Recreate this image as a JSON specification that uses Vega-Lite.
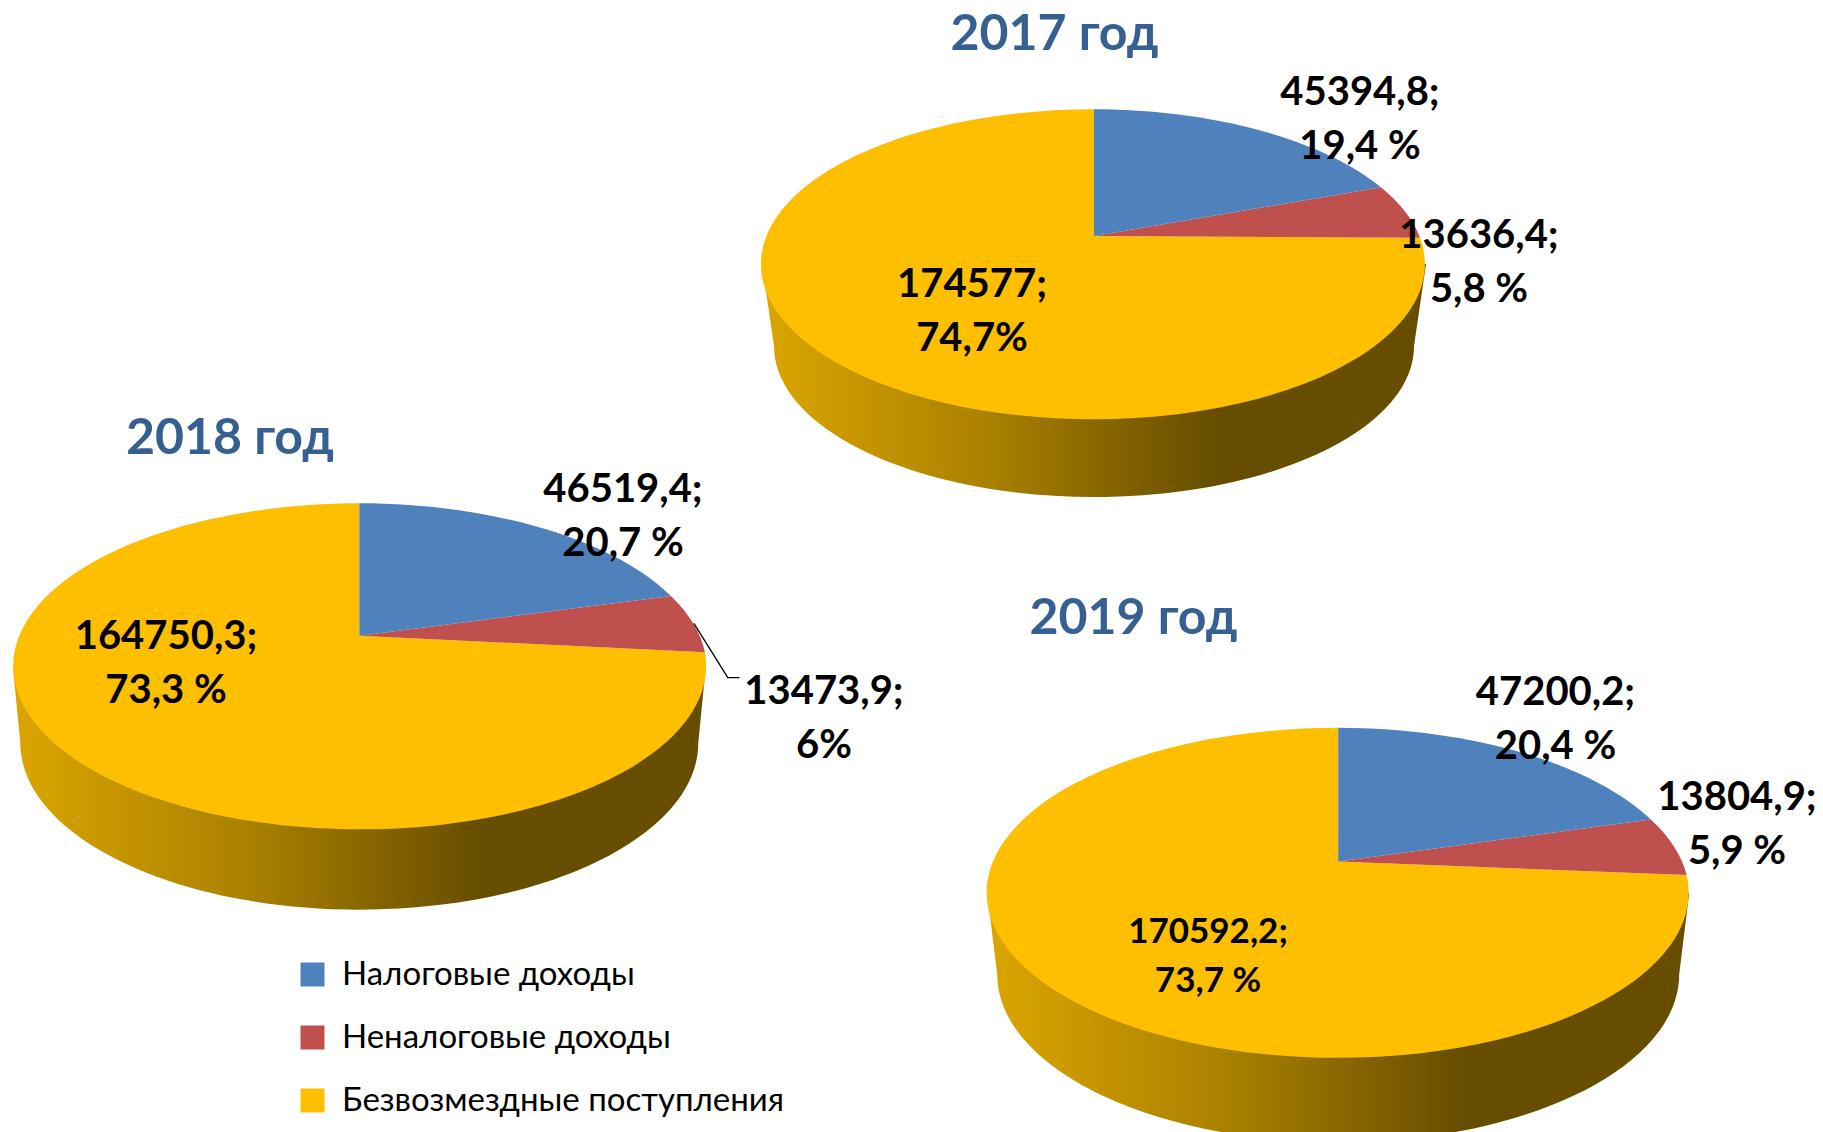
{
"$schema":"https://vega.github.io/schema/vega-lite/v6.json",
"width":1823,"height":1132,"padding":0,"autosize":{"type":"none"},"background":"#ffffff",
"view":{"stroke":null},
"config":{"font":"Lato","text":{"lineBreak":"\n"}},
"data":{"values":[
{"year":2017,"category":"Налоговые доходы","value":45394.8,"percent":19.4,"label":"45394,8;\n19,4 %","title":"2017 год"},
{"year":2017,"category":"Неналоговые доходы","value":13636.4,"percent":5.8,"label":"13636,4;\n5,8 %","title":"2017 год"},
{"year":2017,"category":"Безвозмездные поступления","value":174577,"percent":74.7,"label":"174577;\n74,7%","title":"2017 год"},
{"year":2018,"category":"Налоговые доходы","value":46519.4,"percent":20.7,"label":"46519,4;\n20,7 %","title":"2018 год"},
{"year":2018,"category":"Неналоговые доходы","value":13473.9,"percent":6,"label":"13473,9;\n6%","title":"2018 год"},
{"year":2018,"category":"Безвозмездные поступления","value":164750.3,"percent":73.3,"label":"164750,3;\n73,3 %","title":"2018 год"},
{"year":2019,"category":"Налоговые доходы","value":47200.2,"percent":20.4,"label":"47200,2;\n20,4 %","title":"2019 год"},
{"year":2019,"category":"Неналоговые доходы","value":13804.9,"percent":5.9,"label":"13804,9;\n5,9 %","title":"2019 год"},
{"year":2019,"category":"Безвозмездные поступления","value":170592.2,"percent":73.7,"label":"170592,2;\n73,7 %","title":"2019 год"}
]},
"layer":[
{"transform":[{"filter":"datum.category=='Безвозмездные поступления'"}],
 "mark":{"type":"point","filled":true,"size":4,"opacity":1,"strokeWidth":0,"fill":{"gradient":"linear","x1":0,"y1":0,"x2":1,"y2":0,"stops":[{"offset":0,"color":"#DCA600"},{"offset":0.35,"color":"#A87F00"},{"offset":0.68,"color":"#664D00"},{"offset":1,"color":"#664D00"}]}},
 "encoding":{
  "x":{"field":"year","type":"quantitative","axis":null,"scale":{"domain":[2017,2018,2019],"range":[1094,359.3,1338.2],"zero":false,"nice":false}},
  "y":{"field":"year","type":"quantitative","axis":null,"scale":{"domain":[2017,2018,2019],"range":[236,635.7,861.6],"zero":false,"nice":false}},
  "shape":{"field":"year","type":"nominal","legend":null,"scale":{"domain":[2017,2018,2019],"range":[
   "M-332,28 L-320,110 A320,151 0 1 0 320,110 L332,28 Z",
   "M-346.5,30.5 L-339,107 A339,167 0 1 0 339,107 L346.5,30.5 Z",
   "M-351,31.3 L-341,112.6 A341,168 0 1 0 341,112.6 L351,31.3 Z"]}}
 }},
{"transform":[{"filter":"datum.category=='Безвозмездные поступления'"}],
 "mark":{"type":"point","filled":true,"size":4,"opacity":1,"strokeWidth":0},
 "encoding":{
  "x":{"field":"year","type":"quantitative","axis":null,"scale":{"domain":[2017,2018,2019],"range":[1094,359.3,1338.2],"zero":false,"nice":false}},
  "y":{"field":"year","type":"quantitative","axis":null,"scale":{"domain":[2017,2018,2019],"range":[236,635.7,861.6],"zero":false,"nice":false}},
  "color":{"field":"category","type":"nominal","sort":null,"scale":{"domain":["Налоговые доходы","Неналоговые доходы","Безвозмездные поступления"],"range":["#4F81BD","#C0504D","#FDBF00"]},
   "legend":{"title":null,"orient":"none","legendX":296,"legendY":958,"symbolType":"square","symbolSize":576,"symbolStrokeWidth":0,"labelFontSize":33,"labelFont":"Lato","labelColor":"#000000","labelOffset":13,"labelLimit":700,"rowPadding":29,"padding":0}},
  "shape":{"field":"year","type":"nominal","legend":null,"scale":{"domain":[2017,2018,2019],"range":[
   "M0,0 L326,1.7 A332,155 0 1 1 0,-126.7 Z",
   "M0,0 L345.6,16.6 A346.5,163 0 1 1 0,-132.4 Z",
   "M0,0 L348.4,13.4 A351,165 0 1 1 0,-133.8 Z"]}}
 }},
{"transform":[{"filter":"datum.category=='Неналоговые доходы'"}],
 "mark":{"type":"point","filled":true,"size":4,"opacity":1,"strokeWidth":0},
 "encoding":{
  "x":{"field":"year","type":"quantitative","axis":null,"scale":{"domain":[2017,2018,2019],"range":[1094,359.3,1338.2],"zero":false,"nice":false}},
  "y":{"field":"year","type":"quantitative","axis":null,"scale":{"domain":[2017,2018,2019],"range":[236,635.7,861.6],"zero":false,"nice":false}},
  "color":{"field":"category","type":"nominal","sort":null},
  "shape":{"field":"year","type":"nominal","legend":null,"scale":{"domain":[2017,2018,2019],"range":[
   "M0,0 L287,-48.7 A332,155 0 0 1 326,1.7 Z",
   "M0,0 L311.6,-39.7 A346.5,163 0 0 1 345.6,16.6 Z",
   "M0,0 L312.6,-42.2 A351,165 0 0 1 348.4,13.4 Z"]}}
 }},
{"transform":[{"filter":"datum.category=='Налоговые доходы'"}],
 "mark":{"type":"point","filled":true,"size":4,"opacity":1,"strokeWidth":0},
 "encoding":{
  "x":{"field":"year","type":"quantitative","axis":null,"scale":{"domain":[2017,2018,2019],"range":[1094,359.3,1338.2],"zero":false,"nice":false}},
  "y":{"field":"year","type":"quantitative","axis":null,"scale":{"domain":[2017,2018,2019],"range":[236,635.7,861.6],"zero":false,"nice":false}},
  "color":{"field":"category","type":"nominal","sort":null},
  "shape":{"field":"year","type":"nominal","legend":null,"scale":{"domain":[2017,2018,2019],"range":[
   "M0,0 L0,-126.7 A332,155 0 0 1 287,-48.7 Z",
   "M0,0 L0,-132.4 A346.5,163 0 0 1 311.6,-39.7 Z",
   "M0,0 L0,-133.8 A351,165 0 0 1 312.6,-42.2 Z"]}}
 }},
{"transform":[{"filter":"datum.category=='Неналоговые доходы' && datum.year==2018"}],
 "mark":{"type":"point","filled":false,"size":4,"opacity":1,"stroke":"#000000","strokeWidth":1.3},
 "encoding":{
  "x":{"field":"year","type":"quantitative","axis":null,"scale":{"domain":[2017,2018,2019],"range":[1094,359.3,1338.2],"zero":false,"nice":false}},
  "y":{"field":"year","type":"quantitative","axis":null,"scale":{"domain":[2017,2018,2019],"range":[236,635.7,861.6],"zero":false,"nice":false}},
  "shape":{"field":"year","type":"nominal","legend":null,"scale":{"domain":[2018],"range":["M334.6,-12.4 L368.5,42 L380.2,42"]}}
 }},
{"transform":[{"filter":"datum.category=='Налоговые доходы'"}],
 "mark":{"type":"text","fontWeight":"bold","fontSize":40,"lineHeight":54,"align":"center","baseline":"middle","color":"#000000"},
 "encoding":{
  "x":{"field":"year","type":"quantitative","axis":null,"scale":{"domain":[2017,2018,2019],"range":[1360,623,1555.5],"zero":false,"nice":false}},
  "y":{"field":"year","type":"quantitative","axis":null,"scale":{"domain":[2017,2018,2019],"range":[93,489.5,693],"zero":false,"nice":false}},
  "text":{"field":"label"}
 }},
{"transform":[{"filter":"datum.category=='Неналоговые доходы'"}],
 "mark":{"type":"text","fontWeight":"bold","fontSize":40,"lineHeight":54,"align":"center","baseline":"middle","color":"#000000"},
 "encoding":{
  "x":{"field":"year","type":"quantitative","axis":null,"scale":{"domain":[2017,2018,2019],"range":[1479,824,1737],"zero":false,"nice":false}},
  "y":{"field":"year","type":"quantitative","axis":null,"scale":{"domain":[2017,2018,2019],"range":[236,692,798],"zero":false,"nice":false}},
  "text":{"field":"label"}
 }},
{"transform":[{"filter":"datum.category=='Безвозмездные поступления' && datum.year<2019"}],
 "mark":{"type":"text","fontWeight":"bold","fontSize":40,"lineHeight":54,"align":"center","baseline":"middle","color":"#000000"},
 "encoding":{
  "x":{"field":"year","type":"quantitative","axis":null,"scale":{"domain":[2017,2018],"range":[972,166],"zero":false,"nice":false}},
  "y":{"field":"year","type":"quantitative","axis":null,"scale":{"domain":[2017,2018],"range":[285,637],"zero":false,"nice":false}},
  "text":{"field":"label"}
 }},
{"transform":[{"filter":"datum.category=='Безвозмездные поступления' && datum.year==2019"}],
 "mark":{"type":"text","fontWeight":"bold","fontSize":35,"lineHeight":49,"align":"center","baseline":"middle","color":"#000000"},
 "encoding":{
  "x":{"field":"year","type":"quantitative","axis":null,"scale":{"domain":[2019,2020],"range":[1208,1209],"zero":false,"nice":false}},
  "y":{"field":"year","type":"quantitative","axis":null,"scale":{"domain":[2019,2020],"range":[932,933],"zero":false,"nice":false}},
  "text":{"field":"label"}
 }},
{"transform":[{"filter":"datum.category=='Безвозмездные поступления'"}],
 "mark":{"type":"text","fontWeight":"bold","fontSize":50,"align":"center","baseline":"middle","color":"#376092"},
 "encoding":{
  "x":{"field":"year","type":"quantitative","axis":null,"scale":{"domain":[2017,2018,2019],"range":[1054.5,230,1133.5],"zero":false,"nice":false}},
  "y":{"field":"year","type":"quantitative","axis":null,"scale":{"domain":[2017,2018,2019],"range":[35,439,618.5],"zero":false,"nice":false}},
  "text":{"field":"title"}
 }}
],
"resolve":{"scale":{"x":"independent","y":"independent","shape":"independent"}}
}
